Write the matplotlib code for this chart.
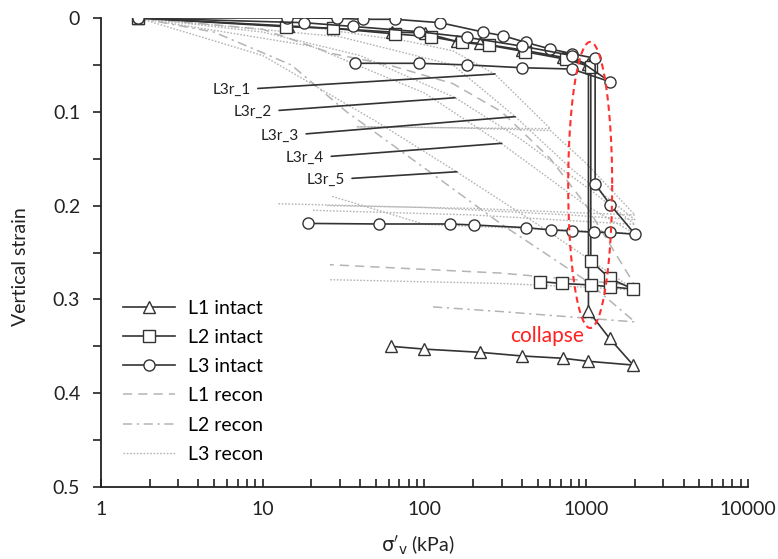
import numpy as np
import matplotlib
matplotlib.use("Agg")
import matplotlib.pyplot as plt

plt.rcParams['font.family'] = ['Lato', 'DejaVu Sans']
plt.rcParams['mathtext.fontset'] = 'dejavusans'

# ---------------- data ----------------
# intact specimens (stress kPa, vertical strain)
l1_stress = [1.7, 14.4, 27, 63, 101, 158, 220, 400, 720, 1032, 1032, 1393, 1950, 1032, 722, 400, 220, 100, 62]
l1_strain = [0, 0.0085, 0.011, 0.015, 0.016, 0.025, 0.027, 0.034, 0.042, 0.049, 0.3124, 0.3415, 0.37, 0.366, 0.3628, 0.3603, 0.3564, 0.353, 0.350]

l2_stress = [1.7, 14, 27, 66, 110, 170, 250, 420, 750, 1067, 1067, 1393, 1950, 1393, 1067, 706, 519]
l2_strain = [0, 0.0093, 0.011, 0.017, 0.02, 0.026, 0.029, 0.036, 0.044, 0.052, 0.2587, 0.2775, 0.289, 0.2865, 0.2846, 0.283, 0.281]

l3a_stress = [1.7, 14.1, 28.9, 41.5, 65.8, 125, 231, 308, 423, 598, 815, 1135, 1135, 1406, 2005, 1406, 1124, 815, 607, 423, 203, 143, 52, 19]
l3a_strain = [0, 0.0, 0.0003, 0.0014, 0.0014, 0.005, 0.015, 0.019, 0.026, 0.033, 0.038, 0.043, 0.177, 0.199, 0.2306, 0.2285, 0.2285, 0.227, 0.226, 0.2235, 0.2207, 0.2196, 0.2196, 0.219]

l3b_stress = [1.7, 18, 36, 92, 183, 400, 815, 1406, 815, 400, 183, 92, 37]
l3b_strain = [0, 0.005, 0.009, 0.0146, 0.0206, 0.03, 0.04, 0.068, 0.0544, 0.053, 0.050, 0.0483, 0.0483]

# reconstituted specimens
l1r_stress = [1.7, 10, 27, 60, 150, 300, 600, 1000, 2000, 1000, 300, 100, 26]
l1r_strain = [0, 0.012, 0.038, 0.05, 0.07, 0.10, 0.15, 0.2, 0.285, 0.28, 0.272, 0.268, 0.263]

l2r_stress = [1.7, 5, 15, 33, 100, 300, 1000, 2000, 1000, 300, 113]
l2r_strain = [0, 0.015, 0.05, 0.10, 0.16, 0.22, 0.28, 0.324, 0.32, 0.313, 0.308]

l3r_stress = [
    [1.7, 20, 80, 150, 273, 600, 150, 38, 150, 600, 1000, 2000, 1000, 200, 25],
    [1.7, 10, 40, 155, 400, 1000, 2000, 1000, 200, 20],
    [1.7, 30, 150, 363, 800, 2000, 800, 100, 12.5],
    [1.7, 20, 100, 300, 1000, 2000, 1000, 100, 26.7],
    [1.7, 10, 50, 158, 500, 2000, 1000, 300, 26],
]
l3r_strain = [
    [0, 0.01, 0.025, 0.035, 0.06, 0.118, 0.117, 0.116, 0.117, 0.12, 0.155, 0.21, 0.208, 0.203, 0.20],
    [0, 0.015, 0.04, 0.085, 0.13, 0.18, 0.22, 0.217, 0.21, 0.205],
    [0, 0.02, 0.05, 0.105, 0.16, 0.215, 0.21, 0.202, 0.198],
    [0, 0.03, 0.08, 0.134, 0.2, 0.23, 0.227, 0.22, 0.19],
    [0, 0.04, 0.11, 0.164, 0.22, 0.29, 0.287, 0.283, 0.279],
]
l3r_labels = ["L3r_1", "L3r_2", "L3r_3", "L3r_4", "L3r_5"]
l3r_label_text_x = [6.43, 8.71, 12.8, 18.3, 24.6]
l3r_label_text_y = [0.0768, 0.1005, 0.1258, 0.1496, 0.1727]
l3r_label_end_x = [273, 154.6, 363, 300, 158.5]
l3r_label_end_y = [0.0597, 0.085, 0.1052, 0.1336, 0.1639]

x_ticks = [1, 10, 100, 1000, 10000]
y_ticks = [0, 0.1, 0.2, 0.3, 0.4, 0.5]

# ---------------- figure ----------------
fig = plt.figure(figsize=(7.78, 5.59), dpi=100)
ax = fig.add_axes([0.1298, 0.1288, 0.8316, 0.839])

gray = '#b4b4b4'
ax.plot(l1r_stress, l1r_strain, ls=(0, (6, 4)), color=gray, lw=1.1, label='L1 recon', zorder=1)
ax.plot(l2r_stress, l2r_strain, ls=(0, (6, 3, 1.5, 3)), color=gray, lw=1.1, label='L2 recon', zorder=1)
for i, (s, e) in enumerate(zip(l3r_stress, l3r_strain)):
    ax.plot(s, e, ls=(0, (1.2, 1.2)), color=gray, lw=1.0,
            label='L3 recon' if i == 0 else None, zorder=1)

lc = '#333333'
mk = dict(mfc='white', mec=lc, mew=1.0, color=lc, lw=1.2, zorder=3)
ax.plot(l1_stress, l1_strain, marker='^', ms=9, label='L1 intact', **mk)
ax.plot(l2_stress, l2_strain, marker='s', ms=8, label='L2 intact', **mk)
ax.plot(l3a_stress, l3a_strain, marker='o', ms=8, label='L3 intact', **mk)
ax.plot(l3b_stress, l3b_strain, marker='o', ms=8, **mk)

# labels for reconstituted curves
for lab, tx, ty, ex, ey in zip(l3r_labels, l3r_label_text_x, l3r_label_text_y,
                               l3r_label_end_x, l3r_label_end_y):
    ax.annotate(lab, xy=(ex, ey), xytext=(tx, ty), ha='center', va='center',
                fontsize=11, color='#222222',
                arrowprops=dict(arrowstyle='-', color='#333333', lw=1.2,
                                shrinkA=3, shrinkB=0))

# collapse ellipse
t = np.linspace(0, 2 * np.pi, 200)
ex = 10 ** (np.log10(1058) + 0.136 * np.cos(t))
ey = 0.178 + 0.1525 * np.sin(t)
ax.plot(ex, ey, color='#ff3030', ls=(0, (3, 2)), lw=1.5, zorder=4)
ax.text(570, 0.339, 'collapse', color='#ff2020', fontsize=15, ha='center', va='center')

ax.set_xscale('log')
ax.set_xlim(1, 10000)
ax.set_ylim(0.5, 0)
ax.set_xticks(x_ticks)
ax.set_xticklabels([str(v) for v in x_ticks])
ax.set_yticks(y_ticks)
ax.set_yticklabels(['0', '0.1', '0.2', '0.3', '0.4', '0.5'])
ax.set_yticks(np.arange(0.05, 0.5, 0.1), minor=True)
ax.tick_params(axis='x', which='both', direction='in', length=6, width=1.2,
               labelsize=14, pad=10, colors='#222222')
ax.tick_params(axis='y', which='both', direction='out', length=6, width=1.2,
               labelsize=14, pad=9, colors='#222222')
for sp in ['top', 'right']:
    ax.spines[sp].set_visible(False)
for sp in ['left', 'bottom']:
    ax.spines[sp].set_linewidth(1.3)
    ax.spines[sp].set_color('#222222')

ax.set_xlabel(r"$\mathrm{\sigma}'_{\mathrm{v}}$ (kPa)", fontsize=14, color='#222222')
ax.xaxis.set_label_coords(0.49, -0.1)
ax.set_ylabel('Vertical strain', fontsize=14, color='#222222')
ax.yaxis.set_label_coords(-0.111, 0.47)

handles, labels = ax.get_legend_handles_labels()
order = ['L1 intact', 'L2 intact', 'L3 intact', 'L1 recon', 'L2 recon', 'L3 recon']
hmap = dict(zip(labels, handles))
leg = ax.legend([hmap[k] for k in order], order, loc='upper left',
                bbox_to_anchor=(0.007, 0.437), frameon=False, fontsize=14,
                handlelength=2.68, handletextpad=0.67, labelspacing=0.63)

fig.savefig('out.png', dpi=100)
